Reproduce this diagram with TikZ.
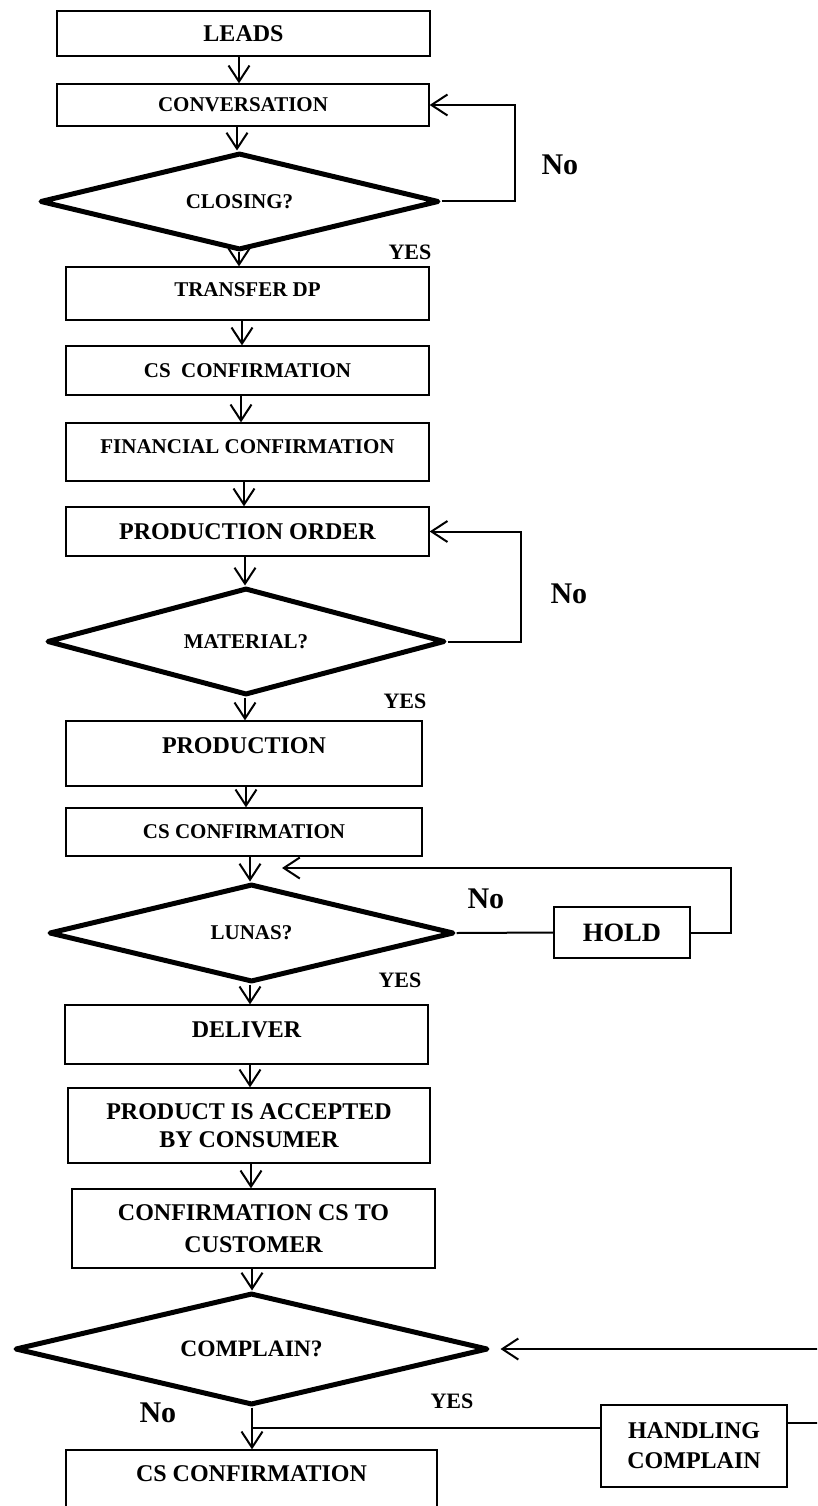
\documentclass[tikz,border=0pt]{standalone}
\usepackage{fontspec}
\setmainfont{Liberation Serif}
\usetikzlibrary{shapes.geometric,arrows.meta}

\tikzset{
  box/.style={draw, line width=1.3pt, inner sep=0pt, align=center,
    font=\bfseries\fontsize{21}{25}\selectfont},
  bigbox/.style={box, font=\bfseries\fontsize{24}{30}\selectfont},
  decision/.style={diamond, aspect=4, draw, line width=5pt, line join=round,
    inner sep=0pt, font=\bfseries\fontsize{21}{25}\selectfont},
  arr/.style={-{Straight Barb[length=16pt,width=21pt]}, line width=2pt},
  wire/.style={line width=2pt},
  yes/.style={anchor=base west, font=\bfseries\fontsize{22}{26}\selectfont},
  no/.style={anchor=base west, font=\bfseries\fontsize{30}{36}\selectfont}
}

\begin{document}
\begin{tikzpicture}[x=1pt, y=-1pt]
  \useasboundingbox (0,0) rectangle (817,1506);
  \clip (0,0) rectangle (817,1506);

  % Process boxes
  \node[bigbox, minimum width=373pt, minimum height=45pt] (leads) at (243.5,33.5) {LEADS};
  \node[box, minimum width=372pt, minimum height=42pt] (conv) at (243,105) {CONVERSATION};
  \node[box, minimum width=363pt, minimum height=53pt, text depth=7pt] (transfer) at (247.5,293.5) {TRANSFER DP};
  \node[box, minimum width=363pt, minimum height=49pt] (cs1) at (247.5,370.5) {CS\ \ CONFIRMATION};
  \node[box, minimum width=363pt, minimum height=58pt, text depth=10pt] (fin) at (247.5,452) {FINANCIAL CONFIRMATION};
  \node[bigbox, minimum width=363pt, minimum height=49pt] (porder) at (247.5,531.5) {PRODUCTION ORDER};
  \node[bigbox, minimum width=356pt, minimum height=65pt, text depth=15pt] (prod) at (244,753.5) {PRODUCTION};
  \node[box, minimum width=356pt, minimum height=48pt] (cs2) at (244,832) {CS CONFIRMATION};
  \node[bigbox, minimum width=363pt, minimum height=59pt, text depth=9pt] (deliver) at (246.5,1034.5) {DELIVER};
  \node[bigbox, minimum width=362pt, minimum height=75pt, font=\bfseries\fontsize{24}{28}\selectfont] (accepted) at (249,1125.5) {PRODUCT IS ACCEPTED\\BY CONSUMER};
  \node[bigbox, minimum width=363pt, minimum height=79pt, font=\bfseries\fontsize{24}{31.5}\selectfont] (custconf) at (253.5,1228.5) {CONFIRMATION CS TO\\CUSTOMER};
  \node[bigbox, minimum width=371pt, minimum height=65pt, text depth=17pt] (cs3) at (251.5,1482.5) {CS CONFIRMATION};
  \node[bigbox, minimum width=136pt, minimum height=51pt, font=\bfseries\fontsize{26.5}{30}\selectfont] (hold) at (622,932.5) {HOLD};
  \node[bigbox, minimum width=186pt, minimum height=82pt] (handle) at (694,1446) {HANDLING\\COMPLAIN};

  % Decisions
  \node[decision, minimum width=399pt, minimum height=97pt] (closing) at (239.5,201.5) {CLOSING?};
  \node[decision, minimum width=398pt, minimum height=107pt] (material) at (246,641.5) {MATERIAL?};
  \node[decision, minimum width=405pt, minimum height=98pt] (lunas) at (251.5,933) {LUNAS?};
  \node[decision, minimum width=473pt, minimum height=112pt, font=\bfseries\fontsize{23.5}{28}\selectfont] (complain) at (251.5,1349) {COMPLAIN?};

  % Labels
  \node[no] (no1) at (538,175) {No};
  \node[yes] (yes1) at (385,260) {YES};
  \node[no] (no2) at (547,603) {No};
  \node[yes] (yes2) at (380,708) {YES};
  \node[no] (no3) at (464,908) {No};
  \node[yes] (yes3) at (375,987) {YES};
  \node[yes] (yes4) at (427,1408) {YES};
  \node[no] (no4) at (136,1422) {No};

  % Main flow
  \foreach \a/\b/\x in {leads/conv/239, conv/closing/237, closing/transfer/239,
      transfer/cs1/242, cs1/fin/241, fin/porder/244, porder/material/245,
      material/prod/245, prod/cs2/246, cs2/lunas/250, lunas/deliver/250,
      deliver/accepted/250, accepted/custconf/251, custconf/complain/252,
      complain/cs3/252}
    \draw[arr] (\x,0 |- \a.south) -- (\x,0 |- \b.north);

  % Loops back
  \draw[arr] (closing.east) -- ++(73,0) |- (conv.east);
  \draw[arr] (material.east) -- ++(73,0) |- (porder.east);

  \coordinate (holdback) at (282,868);
  \draw[wire] (lunas.east) -- (hold.west);
  \draw[arr] (hold.east) -- ++(40,0) |- (holdback);

  \coordinate (split) at (252,1428);
  \draw[wire] (split) -- (split -| handle.west);
  \draw[arr, shorten >=10pt] ([yshift=23pt]handle.east) -- ++(50,0) |- (complain.east);

\end{tikzpicture}
\end{document}
